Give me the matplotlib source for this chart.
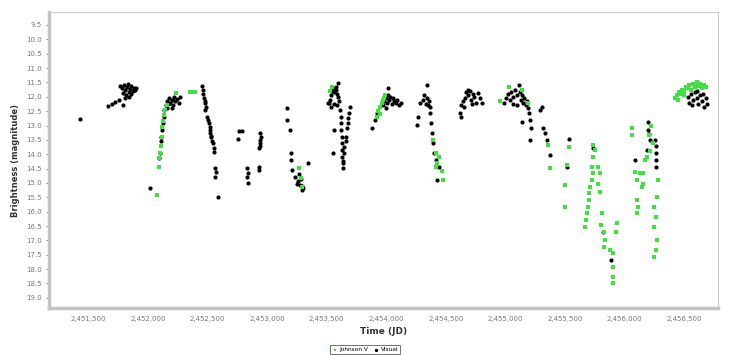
import matplotlib
matplotlib.use("Agg")
import matplotlib.pyplot as plt
from matplotlib.ticker import FuncFormatter, MultipleLocator
import numpy as np

# visual observations (JD, magnitude)
visual_jd = [
    2451433, 2451668, 2451701, 2451727, 2451760, 2451794,
    2451770, 2451785, 2451800, 2451812, 2451825, 2451838, 2451850, 2451862, 2451875,
    2451790, 2451815, 2451845, 2451830, 2451858, 2451880, 2451905, 2451895, 2451805,
    2452020, 2452098, 2452104, 2452110, 2452112, 2452118, 2452125, 2452132, 2452140,
    2452150, 2452160, 2452170, 2452180, 2452190, 2452200, 2452210, 2452220, 2452232,
    2452245, 2452258, 2452270, 2452165, 2452205,
    2452454, 2452460, 2452465, 2452473, 2452478, 2452482, 2452488, 2452482, 2452498,
    2452505, 2452515, 2452520, 2452524, 2452526, 2452528, 2452532, 2452540, 2452549,
    2452552, 2452556, 2452566, 2452568, 2452566, 2452591,
    2452753, 2452761, 2452789, 2452831, 2452842, 2452831, 2452840,
    2452943, 2452948, 2452945, 2452940, 2452938, 2452935, 2452932, 2452936,
    2453172, 2453172, 2453189, 2453200, 2453200, 2453209, 2453237, 2453251, 2453262,
    2453279, 2453290, 2453306, 2453295, 2453348, 2453285, 2453270,
    2453515, 2453525, 2453535, 2453545, 2453555, 2453565, 2453575, 2453585, 2453595,
    2453605, 2453560, 2453540, 2453600, 2453580, 2453590, 2453520, 2453560, 2453550,
    2453614, 2453618, 2453622, 2453624, 2453626, 2453628, 2453630, 2453632, 2453634,
    2453636, 2453640, 2453645, 2453650, 2453660, 2453665, 2453672, 2453678, 2453682,
    2453690, 2453700,
    2453880, 2453908, 2453920,
    2453975, 2453985, 2453995, 2454005, 2454015, 2454019, 2454025, 2454035, 2454045,
    2454055, 2454065, 2454080, 2454095, 2454110, 2454125, 2454000,
    2454271, 2454255, 2454286, 2454342, 2454310, 2454320, 2454330, 2454340, 2454350,
    2454360, 2454370, 2454370, 2454375, 2454385, 2454395, 2454405, 2454440, 2454426,
    2454415,
    2454621, 2454627, 2454630, 2454645, 2454660, 2454672, 2454685, 2454700, 2454712,
    2454725, 2454740, 2454755, 2454770, 2454785, 2454800, 2454650, 2454720, 2454690,
    2454990, 2455005, 2455020, 2455035, 2455050, 2455065, 2455080, 2455095, 2455111,
    2455120, 2455130, 2455140, 2455150, 2455160, 2455170, 2455180, 2455190, 2455200,
    2455060, 2455100,
    2455306, 2455292, 2455208, 2455140, 2455216, 2455208, 2455320, 2455334, 2455348,
    2455376, 2455538, 2455521,
    2455737, 2455818, 2455886, 2456089,
    2456193, 2456198, 2456212, 2456190, 2456255, 2456268, 2456268, 2456268, 2456205,
    2456260,
    2456530, 2456545, 2456560, 2456575, 2456590, 2456605, 2456620, 2456635, 2456650,
    2456665, 2456680, 2456690, 2456570, 2456610, 2456660,
]
visual_mag = [
    12.78, 12.32, 12.25, 12.17, 12.11, 12.29,
    11.62, 11.70, 11.58, 11.75, 11.66, 11.84, 11.72, 11.90, 11.80,
    11.88, 11.95, 12.00, 11.55, 11.62, 11.70, 11.68, 11.78, 12.05,
    15.19, 14.13, 13.95, 13.55, 13.40, 13.15, 12.90, 12.70, 12.45,
    12.30, 12.15, 12.25, 12.05, 12.20, 12.10, 12.30, 12.00, 12.15,
    12.08, 12.22, 12.02, 12.38, 12.40,
    11.63, 11.78, 11.90, 12.05, 12.15, 12.23, 12.35, 12.46, 12.70,
    12.82, 12.93, 13.05, 13.16, 13.27, 13.35, 13.39, 13.55, 13.62,
    13.80, 13.91, 14.49, 14.62, 14.79, 15.48,
    13.48, 13.19, 13.19, 14.49, 14.67, 14.81, 14.99,
    13.27, 13.39, 13.50, 13.62, 13.72, 13.80, 14.44, 14.55,
    12.40, 12.81, 13.16, 13.97, 14.20, 14.55, 14.79, 15.02, 14.95,
    15.07, 15.12, 15.19, 15.25, 14.30, 14.85, 14.70,
    12.20, 12.10, 11.95, 11.80, 11.70, 11.85, 11.65, 11.90, 12.00,
    12.15, 12.25, 12.35, 11.51, 11.75, 12.30, 12.23, 13.16, 13.97,
    12.46, 12.70, 12.93, 13.15, 13.39, 13.62, 13.86, 14.10, 14.32,
    14.49, 14.25, 13.95, 13.74, 13.55, 13.39, 13.10, 12.93, 12.75,
    12.58, 12.35,
    13.10, 12.81, 12.58,
    12.30, 12.15, 12.05, 12.20, 11.95, 11.71, 12.10, 12.00, 12.25,
    12.05, 12.15, 12.20, 12.10, 12.30, 12.20, 12.38,
    12.70, 12.98, 12.23, 11.59, 12.10, 11.95, 12.25, 12.05, 12.30,
    12.15, 12.35, 12.58, 12.93, 13.27, 13.62, 13.97, 14.44, 14.90,
    14.20,
    12.58, 12.70, 12.30, 12.15, 12.05, 11.85, 11.95, 11.80, 12.10,
    11.90, 12.00, 12.20, 11.88, 12.05, 12.21, 12.35, 12.25, 11.76,
    12.20, 12.05, 11.90, 12.10, 11.85, 12.00, 11.75, 11.95, 11.59,
    11.85, 12.10, 11.95, 12.20, 12.05, 12.30, 12.15, 12.40, 12.58,
    12.25, 12.30,
    12.35, 12.46, 12.81, 12.87, 13.10, 13.51, 13.10, 13.27, 13.51,
    14.03, 13.48, 14.44,
    13.80, 16.70, 17.69, 14.20,
    12.87, 13.16, 13.51, 13.86, 13.51, 13.97, 14.20, 14.44, 13.30,
    13.70,
    12.00, 12.20, 11.90, 12.10, 11.85, 12.05, 12.25, 11.95, 12.15,
    12.35, 12.05, 12.25, 12.30, 11.80, 11.90,
]

# Johnson V observations
jv_jd = [
    2452076, 2452096, 2452098, 2452104, 2452112, 2452115, 2452120, 2452128, 2452135,
    2452145, 2452160, 2452238, 2452356, 2452375, 2452398,
    2453270, 2453285, 2453293,
    2453545, 2453530,
    2453920, 2453935, 2453950, 2453965, 2453980, 2453990, 2453945, 2453970,
    2454395, 2454420, 2454430, 2454420, 2454481, 2454465, 2454445,
    2454957, 2455027, 2455138, 2455194, 2455362, 2455376, 2455530, 2455516, 2455502,
    2455502,
    2455737, 2455754, 2455737, 2455726, 2455733, 2455726, 2455712, 2455706, 2455698,
    2455690, 2455684, 2455678, 2455670,
    2455781, 2455790, 2455781, 2455796, 2455810, 2455802, 2455824, 2455838, 2455824,
    2455880, 2455900, 2455905, 2455900, 2455905, 2455935, 2455930,
    2456061, 2456061, 2456089, 2456103, 2456131, 2456145, 2456103, 2456117, 2456108,
    2456205, 2456173, 2456159, 2456159, 2456187, 2456220, 2456240, 2456210,
    2456278, 2456273, 2456250, 2456264, 2456250, 2456273, 2456264, 2456250,
    2456425, 2456440, 2456455, 2456470, 2456485, 2456500, 2456515, 2456530, 2456545,
    2456560, 2456575, 2456590, 2456605, 2456620, 2456635, 2456650, 2456665, 2456680,
    2456450, 2456500,
]
jv_mag = [
    15.42, 14.44, 14.13, 13.95, 13.72, 13.39, 13.05, 12.85, 12.62,
    12.45, 12.30, 11.86, 11.82, 11.82, 11.84,
    14.47, 14.83, 15.13,
    11.65, 11.80,
    12.70, 12.50, 12.35, 12.20, 12.05, 11.95, 12.60, 12.10,
    13.51, 13.97, 14.32, 14.44, 14.90, 14.60, 14.10,
    12.15, 11.65, 11.75, 12.23, 13.68, 14.49, 13.74, 14.38, 15.07,
    15.83,
    13.68, 13.86, 14.09, 14.44, 14.67, 14.90, 15.13, 15.36, 15.60,
    15.83, 16.06, 16.29, 16.53,
    14.44, 14.67, 15.02, 15.31, 16.06, 16.47, 16.70, 16.99, 17.22,
    17.34, 17.45, 17.92, 18.27, 18.50, 16.41, 16.70,
    13.10, 13.33, 14.61, 14.90, 14.67, 15.13, 15.60, 15.83, 16.06,
    13.33, 14.20, 14.67, 15.02, 14.09, 13.00, 13.60, 13.90,
    14.90, 15.48, 15.83, 16.18, 16.53, 16.99, 17.34, 17.57,
    12.05, 11.95, 11.85, 11.90, 11.75, 11.80, 11.65, 11.70, 11.60,
    11.75, 11.55, 11.65, 11.50, 11.62, 11.55, 11.70, 11.58, 11.65,
    12.10, 11.95,
]

fig = plt.figure(figsize=(7.35, 3.55), dpi=100)
ax = fig.add_axes([0.067, 0.132, 0.910, 0.834])

ax.scatter(visual_jd, visual_mag, s=9, c='black', marker='o', linewidths=0,
           label='Visual', zorder=3)
ax.scatter(jv_jd, jv_mag, s=7, c='#3fe03f', marker='s', linewidths=0,
           label='Johnson V', zorder=4)

ax.set_xlim(2451173, 2456785)
ax.set_ylim(19.36, 9.05)
ax.xaxis.set_major_locator(MultipleLocator(500))
ax.yaxis.set_major_locator(MultipleLocator(0.5))
ax.xaxis.set_major_formatter(FuncFormatter(lambda v, p: f"{v:,.0f}"))
ax.yaxis.set_major_formatter(FuncFormatter(lambda v, p: f"{v:.1f}"))
ax.tick_params(axis='both', labelsize=5, colors='#777777', length=2, width=0.6)
ax.tick_params(axis='x', length=0, pad=6)

for s in ['top', 'right']:
    ax.spines[s].set_color('#cccccc')
    ax.spines[s].set_linewidth(0.8)
for s in ['left', 'bottom']:
    ax.spines[s].set_color('#c4c4c4')
    ax.spines[s].set_linewidth(2.5)

ax.set_xlabel('Time (JD)', fontsize=6.5, fontweight='bold', color='#333333', labelpad=3)
ax.set_ylabel('Brightness (magnitude)', fontsize=6, fontweight='bold', color='#333333', labelpad=4)

h, l = ax.get_legend_handles_labels()
leg = fig.legend(h[::-1], l[::-1], loc='lower center', bbox_to_anchor=(0.497, -0.005),
                 ncol=2, fontsize=4.2, frameon=True, fancybox=False, markerscale=0.8,
                 handletextpad=0.3, columnspacing=0.8, borderpad=0.3, handlelength=1)
leg.get_frame().set_edgecolor('#333333')
leg.get_frame().set_linewidth(0.6)

fig.savefig('out.png', dpi=100)
